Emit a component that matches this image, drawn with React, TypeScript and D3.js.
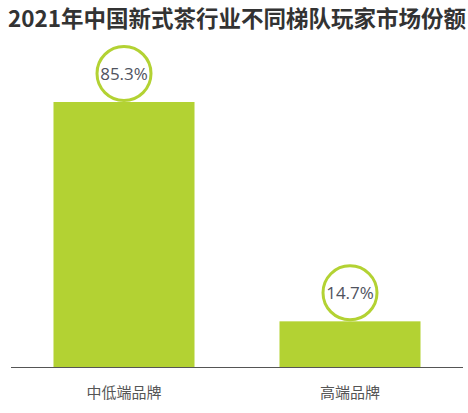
import React from "react";
import * as d3 from "d3";

const categories = ["中低端品牌", "高端品牌"];
const values = [85.3, 14.7];
const labels = ["85.3%", "14.7%"];
const title = "2021年中国新式茶行业不同梯队玩家市场份额";

export default function App() {
  const W = 468, H = 413;
  const baseY = 367;
  const x = d3.scaleBand<string>().domain(categories).range([11, 463]).paddingInner(0.376).paddingOuter(0.188);
  const y = d3.scaleLinear().domain([0, 85.3]).range([baseY, 102]);
  const green = "#b3d233";
  const r = 27;
  return (
    <svg width={W} height={H} style={{ position: "absolute", left: 0, top: 0, background: "#fff" }}>
      <text x={237} y={27} textAnchor="middle" fontFamily="'Noto Sans CJK SC', sans-serif" fontWeight="bold" fontSize={22.5} fill="#333">{title}</text>
      {categories.map((c, i) => {
        const bx = x(c)!;
        const bw = x.bandwidth();
        const top = y(values[i]);
        const cx = bx + bw / 2;
        const cy = top - r - 1.5;
        return (
          <g key={c}>
            <rect x={bx} y={top} width={bw} height={baseY - top} fill={green} />
            <circle cx={cx} cy={cy} r={r} fill="#fff" stroke={green} strokeWidth={3} />
            <text x={cx} y={cy + 6} textAnchor="middle" fontFamily="'Open Sans', sans-serif" fontSize={17} fill="#50535e">{labels[i]}</text>
            <text x={cx} y={398} textAnchor="middle" fontFamily="'Noto Sans CJK SC', sans-serif" fontSize={15} fill="#555">{c}</text>
          </g>
        );
      })}
      <line x1={11} x2={463} y1={baseY + 0.5} y2={baseY + 0.5} stroke="#555" strokeWidth={1} />
    </svg>
  );
}
